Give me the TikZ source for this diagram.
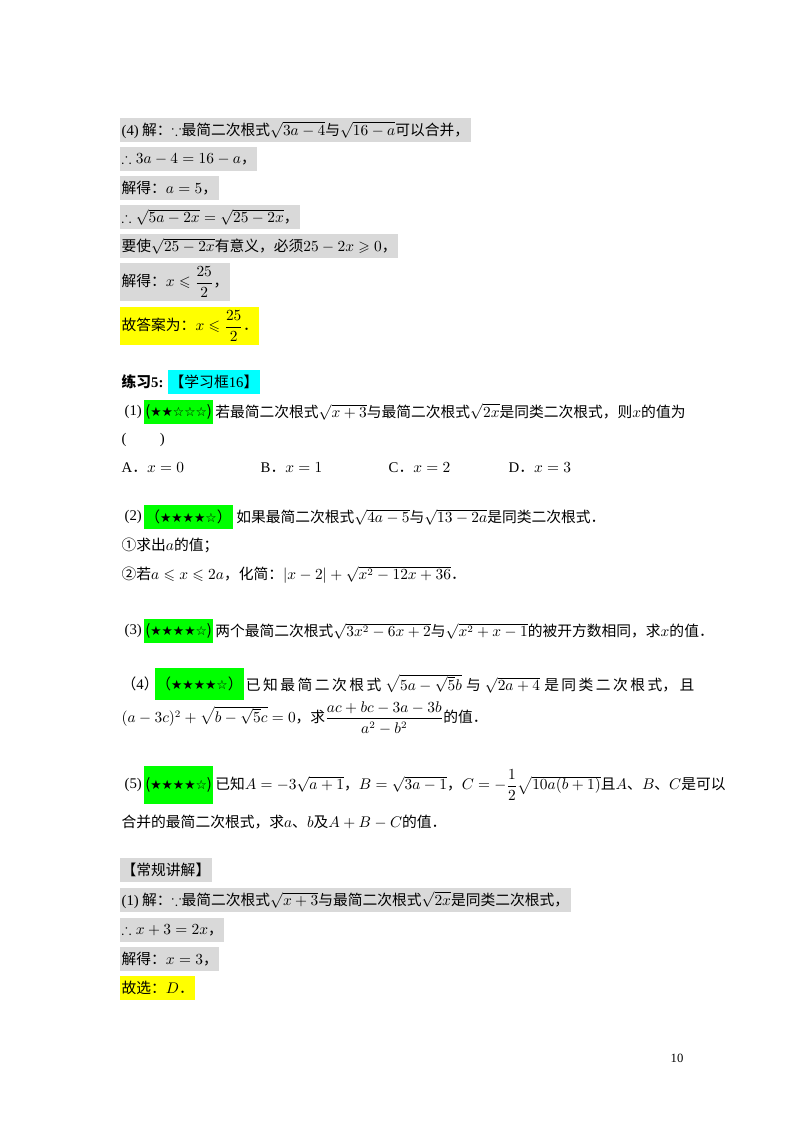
\documentclass[tikz,border=0pt]{standalone}
\usepackage{amsmath,amssymb}
\usepackage{fontspec}
\setmainfont{Noto Sans CJK SC}
\newfontfamily\tm{Liberation Serif}
\newfontfamily\sym{DejaVu Sans}
\usepackage{tikz}
\usetikzlibrary{positioning}
\definecolor{hlgray}{RGB}{217,217,217}
\definecolor{hlgreen}{RGB}{0,255,0}
\definecolor{hlcyan}{RGB}{0,255,255}
\definecolor{hlyellow}{RGB}{255,255,0}
\tikzset{
    line/.style={anchor=west, inner xsep=1pt, inner ysep=0pt, font=\fontsize{10.5}{12}\selectfont},
    grayhl/.style={line, fill=hlgray, minimum height=0.58cm},
    greenhl/.style={line, fill=hlgreen, minimum height=0.62cm},
    cyanhl/.style={line, fill=hlcyan, minimum height=0.6cm},
    yellowhl/.style={line, fill=hlyellow, minimum height=0.6cm},
}
\newcommand{\stars}[1]{{\sym\fontsize{9}{10}\selectfont #1}}
\begin{document}
\begin{tikzpicture}[x=0.025cm, y=-0.025cm]
    \useasboundingbox (0,0) rectangle (800,1132);

    % worked answer (4)
    \node[grayhl] (r1) at (120,130) {{\tm(4)} 解：$\because$最简二次根式$\sqrt{3a-4}$与$\sqrt{16-a}$可以合并，};
    \node[grayhl] (r2) at (120,159) {$\therefore 3a-4=16-a$，};
    \node[grayhl] (r3) at (120,188) {解得：$a=5$，};
    \node[grayhl] (r4) at (120,217) {$\therefore\sqrt{5a-2x}=\sqrt{25-2x}$，};
    \node[grayhl] (r5) at (120,246) {要使$\sqrt{25-2x}$有意义，必须$25-2x\geqslant0$，};
    \node[grayhl, minimum height=0.95cm] (r6) at (120,282) {解得：$x\leqslant\dfrac{25}{2}$，};
    \node[yellowhl, minimum height=0.95cm] (r7) at (120,326) {故答案为：$x\leqslant\dfrac{25}{2}$．};

    % exercise 5
    \node[line, font=\fontsize{10.5}{12}\selectfont\bfseries] (ex) at (120,382) {练习{\tm\bfseries 5:}};
    \node[cyanhl, right=2pt of ex] (box) {【学习框{\tm 16}】};

    \node[line] (n1) at (123,412) {\tm(1)};
    \node[greenhl, right=0pt of n1] (s1) {(\stars{★★☆☆☆})};
    \node[line, right=0pt of s1] (q1) {若最简二次根式$\sqrt{x+3}$与最简二次根式$\sqrt{2x}$是同类二次根式，则$x$的值为};
    \node[line] (q1b) at (120,440) {\tm(\qquad\ )};
    \node[line] (oa) at (120,468) {{\tm A}．$x=0$};
    \node[line] (ob) at (259,468) {{\tm B}．$x=1$};
    \node[line] (oc) at (387,468) {{\tm C}．$x=2$};
    \node[line] (od) at (507,468) {{\tm D}．$x=3$};

    \node[line] (n2) at (123,517) {\tm(2)};
    \node[greenhl, right=0pt of n2] (s2) {（\stars{★★★★☆}）};
    \node[line, right=1pt of s2] (q2) {如果最简二次根式$\sqrt{4a-5}$与$\sqrt{13-2a}$是同类二次根式．};
    \node[line] (q2a) at (120,545) {①求出$a$的值；};
    \node[line] (q2b) at (120,575) {②若$a\leqslant x\leqslant 2a$，化简：$|x-2|+\sqrt{x^2-12x+36}$．};

    \node[line] (n3) at (123,631) {\tm(3)};
    \node[greenhl, right=0pt of n3] (s3) {(\stars{★★★★☆})};
    \node[line, right=0pt of s3] (q3) {两个最简二次根式$\sqrt{3x^2-6x+2}$与$\sqrt{x^2+x-1}$的被开方数相同，求$x$的值．};

    \node[line] (n4) at (120,684) {（{\tm 4}）};
    \node[greenhl, right=-4pt of n4, minimum height=0.8cm] (s4) {（\stars{★★★★☆}）};
    \node[line, right=0pt of s4] (q4) {已\,知\,最\,简\,二\,次\,根\,式\;$\sqrt{5a-\sqrt{5}b}$\;与\;$\sqrt{2a+4}$\;是\,同\,类\,二\,次\,根\,式，\,且};
    \node[line] (q4b) at (120,718) {$(a-3c)^2+\sqrt{b-\sqrt{5}c}=0$，求$\dfrac{ac+bc-3a-3b}{a^2-b^2}$的值．};

    \node[line] (n5) at (123,785) {\tm(5)};
    \node[greenhl, right=0pt of n5, minimum height=0.95cm] (s5) {(\stars{★★★★☆})};
    \node[line, right=0pt of s5] (q5) {已知$A=-3\sqrt{a+1}$，$B=\sqrt{3a-1}$，$C=-\dfrac{1}{2}\sqrt{10a(b+1)}$且$A$、$B$、$C$是可以};
    \node[line] (q5b) at (120,822) {合并的最简二次根式，求$a$、$b$及$A+B-C$的值．};

    % routine answer
    \node[grayhl] (t0) at (120,870) {【常规讲解】};
    \node[grayhl] (t1) at (120,900) {{\tm(1)} 解：$\because$最简二次根式$\sqrt{x+3}$与最简二次根式$\sqrt{2x}$是同类二次根式，};
    \node[grayhl] (t2) at (120,930) {$\therefore x+3=2x$，};
    \node[grayhl] (t3) at (120,959) {解得：$x=3$，};
    \node[yellowhl] (t4) at (120,988) {故选：$D$．};

    \node[line, font=\tm\fontsize{9}{10}\selectfont] (pg) at (669,1058) {10};
\end{tikzpicture}
\end{document}
